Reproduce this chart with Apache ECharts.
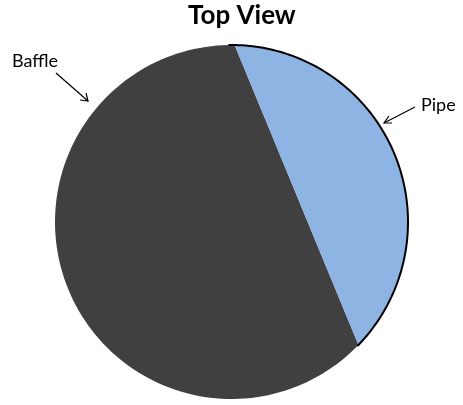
<!DOCTYPE html>
<html>
<head>
<meta charset="utf-8">
<script src="https://cdn.jsdelivr.net/npm/echarts@6/dist/echarts.min.js"></script>
<style>
  html, body { margin: 0; padding: 0; background: #fff; }
  #chart { width: 463px; height: 405px; }
</style>
</head>
<body>
<div id="chart"></div>
<script>
// segments of the circle, cut by a chord; angles in degrees, counterclockwise from east
var segmentNames = ['Baffle', 'Pipe'];
var segmentStart = [89, -44];
var segmentEnd = [316, 89];
var segmentColors = ['#404040', '#8eb4e3'];

var data = segmentNames.map(function (name, i) {
    return { name: name, value: [segmentStart[i], segmentEnd[i]] };
});

function renderSegment(params, api) {
    var a0 = api.value(0), a1 = api.value(1);
    var pts = [];
    var n = 120;
    for (var i = 0; i <= n; i++) {
        var a = (a0 + (a1 - a0) * i / n) * Math.PI / 180;
        pts.push(api.coord([Math.cos(a), Math.sin(a)]));
    }
    var children = [{
        type: 'polygon',
        shape: { points: pts },
        style: { fill: segmentColors[params.dataIndex], stroke: null }
    }];
    if (segmentNames[params.dataIndex] === 'Pipe') {
        // outline along the outer arc of the pipe
        var arc = [];
        var b0 = a0 - 0.5, b1 = a1 + 2;
        for (var j = 0; j <= n; j++) {
            var b = (b0 + (b1 - b0) * j / n) * Math.PI / 180;
            arc.push(api.coord([Math.cos(b), Math.sin(b)]));
        }
        children.push({
            type: 'polyline',
            shape: { points: arc },
            style: { stroke: '#000', lineWidth: 2, fill: null }
        });
    }
    return { type: 'group', children: children };
}

var chart = echarts.init(document.getElementById('chart'));
chart.setOption({
    animation: false,
    title: {
        text: 'Top View',
        left: 183,
        top: -2,
        textStyle: { fontFamily: 'Lato', fontSize: 26, fontWeight: 'bold', color: '#000' }
    },
    grid: { left: 55, top: 45, width: 353, height: 354 },
    xAxis: { type: 'value', min: -1, max: 1, show: false },
    yAxis: { type: 'value', min: -1, max: 1, show: false },
    series: [{
        type: 'custom',
        renderItem: renderSegment,
        data: data
    }],
    graphic: [
        { type: 'text', left: 12, top: 52, style: { text: 'Baffle', font: '18px Lato', fill: '#000' } },
        { type: 'line', shape: { x1: 56, y1: 73, x2: 88, y2: 101 }, style: { stroke: '#000', lineWidth: 1.2 } },
        { type: 'polyline', shape: { points: [[80, 100], [88, 101], [86, 93]] }, style: { stroke: '#000', lineWidth: 1.2, fill: null } },
        { type: 'text', left: 421, top: 96, style: { text: 'Pipe', font: '18px Lato', fill: '#000' } },
        { type: 'line', shape: { x1: 415, y1: 107, x2: 384, y2: 123 }, style: { stroke: '#000', lineWidth: 1.2 } },
        { type: 'polyline', shape: { points: [[389, 116], [384, 123], [392, 123]] }, style: { stroke: '#000', lineWidth: 1.2, fill: null } }
    ]
});
</script>
</body>
</html>
